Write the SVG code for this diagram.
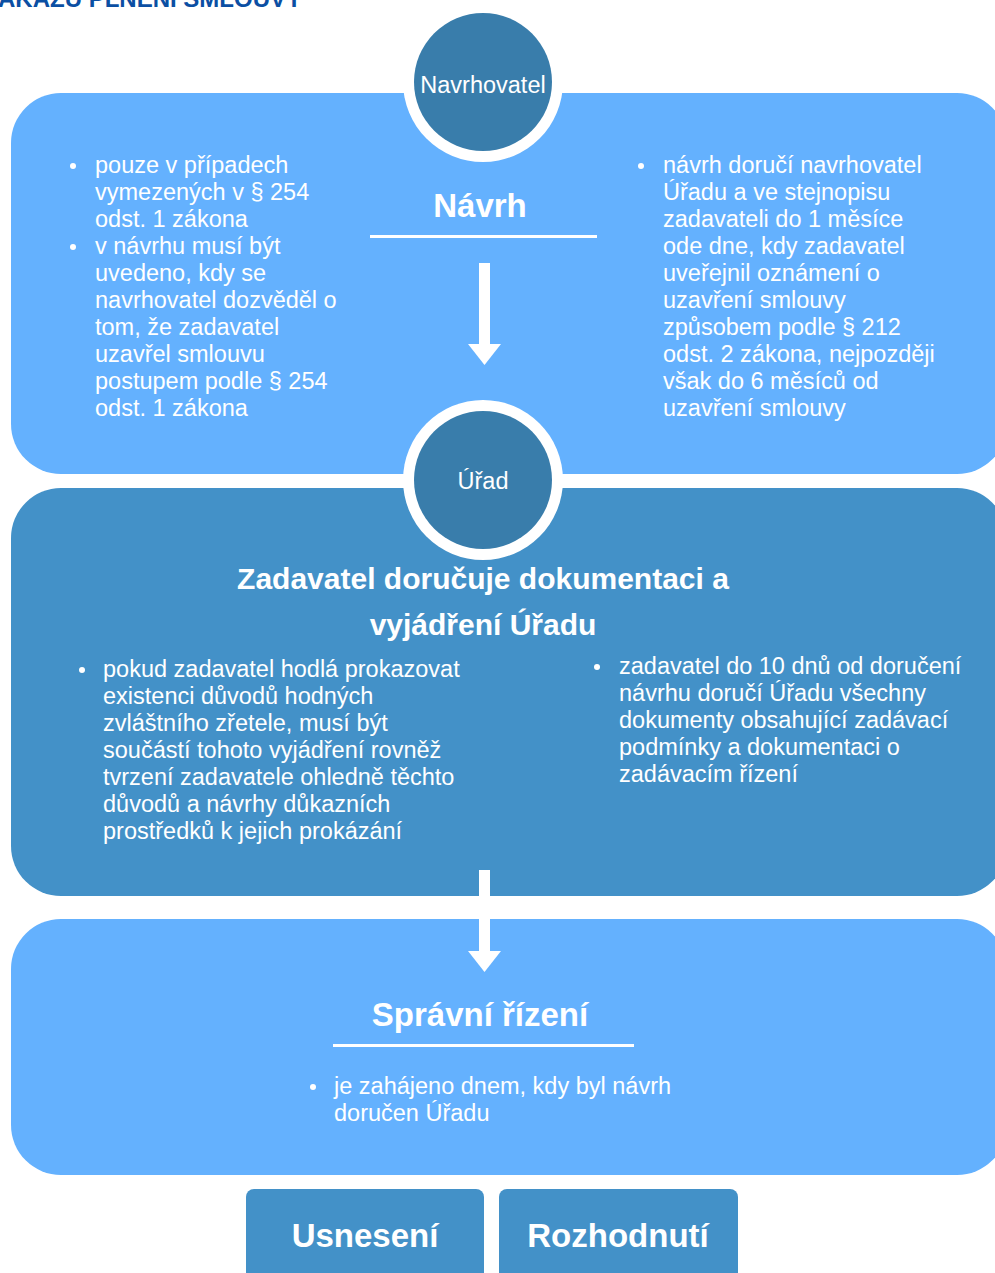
<svg xmlns="http://www.w3.org/2000/svg" width="995" height="1273" viewBox="0 0 995 1273">
<style>
.light{fill:#64B1FE}
.mid{fill:#4391C8}
.circ{fill:#397DAB}
.ring{fill:#FFFFFF}
.t{font-family:"Liberation Sans",Arial,sans-serif;fill:#FFFFFF}
.body{font-size:23.5px}
.h1{font-size:33px;font-weight:bold}
.h2{font-size:30px;font-weight:bold}
.ctr{text-anchor:middle}
.bul{fill:#FFFFFF}
.title{font-family:"Liberation Sans",Arial,sans-serif;font-size:24px;font-weight:bold;fill:#0B4FA3}
.conn{stroke:#FFFFFF;stroke-width:11;fill:none}
</style>
<defs>
<marker id="head" markerUnits="userSpaceOnUse" markerWidth="22" markerHeight="34" viewBox="0 -17 22 34" refX="0" refY="0" orient="auto">
<path d="M0,-16.5 L21,0 L0,16.5 Z" fill="#FFFFFF"/>
</marker>
</defs>
<rect width="995" height="1273" fill="#FFFFFF"/>
<text class="title" x="-2" y="7">AKAZU PLNĚNÍ SMLOUVY</text>

<g id="navrh">
<rect class="light" x="11" y="93" width="996" height="381" rx="50" ry="50"/>
<text class="t h1 ctr" x="480" y="217">Návrh</text>
<rect x="370" y="235" width="227" height="3" fill="#FFFFFF"/>
<circle class="bul" cx="73" cy="166" r="3"/>
<circle class="bul" cx="73" cy="247" r="3"/>
<text class="t body" x="95">
<tspan x="95" y="173">pouze v případech</tspan>
<tspan x="95" y="200">vymezených v § 254</tspan>
<tspan x="95" y="227">odst. 1 zákona</tspan>
<tspan x="95" y="254">v návrhu musí být</tspan>
<tspan x="95" y="281">uvedeno, kdy se</tspan>
<tspan x="95" y="308">navrhovatel dozvěděl o</tspan>
<tspan x="95" y="335">tom, že zadavatel</tspan>
<tspan x="95" y="362">uzavřel smlouvu</tspan>
<tspan x="95" y="389">postupem podle § 254</tspan>
<tspan x="95" y="416">odst. 1 zákona</tspan>
</text>
<circle class="bul" cx="641" cy="166" r="3"/>
<text class="t body">
<tspan x="663" y="173">návrh doručí navrhovatel</tspan>
<tspan x="663" y="200">Úřadu a ve stejnopisu</tspan>
<tspan x="663" y="227">zadavateli do 1 měsíce</tspan>
<tspan x="663" y="254">ode dne, kdy zadavatel</tspan>
<tspan x="663" y="281">uveřejnil oznámení o</tspan>
<tspan x="663" y="308">uzavření smlouvy</tspan>
<tspan x="663" y="335">způsobem podle § 212</tspan>
<tspan x="663" y="362">odst. 2 zákona, nejpozději</tspan>
<tspan x="663" y="389">však do 6 měsíců od</tspan>
<tspan x="663" y="416">uzavření smlouvy</tspan>
</text>
</g>

<g id="navrhovatel">
<circle class="ring" cx="483" cy="82" r="80"/>
<circle class="circ" cx="483" cy="82" r="69"/>
<text class="t body ctr" x="483" y="93">Navrhovatel</text>
</g>

<g id="zadavatel">
<rect class="mid" x="11" y="488" width="996" height="408" rx="50" ry="50"/>
<text class="t h2 ctr" x="483" y="589">Zadavatel doručuje dokumentaci a</text>
<text class="t h2 ctr" x="483" y="635">vyjádření Úřadu</text>
<circle class="bul" cx="82" cy="670" r="3"/>
<text class="t body">
<tspan x="103" y="677">pokud zadavatel hodlá prokazovat</tspan>
<tspan x="103" y="704">existenci důvodů hodných</tspan>
<tspan x="103" y="731">zvláštního zřetele, musí být</tspan>
<tspan x="103" y="758">součástí tohoto vyjádření rovněž</tspan>
<tspan x="103" y="785">tvrzení zadavatele ohledně těchto</tspan>
<tspan x="103" y="812">důvodů a návrhy důkazních</tspan>
<tspan x="103" y="839">prostředků k jejich prokázání</tspan>
</text>
<circle class="bul" cx="597" cy="667" r="3"/>
<text class="t body">
<tspan x="619" y="674">zadavatel do 10 dnů od doručení</tspan>
<tspan x="619" y="701">návrhu doručí Úřadu všechny</tspan>
<tspan x="619" y="728">dokumenty obsahující zadávací</tspan>
<tspan x="619" y="755">podmínky a dokumentaci o</tspan>
<tspan x="619" y="782">zadávacím řízení</tspan>
</text>
</g>

<g id="urad">
<circle class="ring" cx="483" cy="480" r="80"/>
<circle class="circ" cx="483" cy="480" r="69"/>
<text class="t body ctr" x="483" y="489">Úřad</text>
</g>

<g id="spravni-rizeni">
<rect class="light" x="11" y="919" width="996" height="256" rx="50" ry="50"/>
<text class="t h1 ctr" x="480" y="1026">Správní řízení</text>
<rect x="333" y="1044" width="301" height="3" fill="#FFFFFF"/>
<circle class="bul" cx="313" cy="1087" r="3"/>
<text class="t body">
<tspan x="334" y="1094">je zahájeno dnem, kdy byl návrh</tspan>
<tspan x="334" y="1121">doručen Úřadu</tspan>
</text>
</g>

<g id="usneseni">
<rect class="mid" x="246" y="1189" width="238" height="100" rx="8" ry="8"/>
<text class="t h1 ctr" x="365" y="1247">Usnesení</text>
</g>

<g id="rozhodnuti">
<rect class="mid" x="499" y="1189" width="239" height="100" rx="8" ry="8"/>
<text class="t h1 ctr" x="618" y="1247">Rozhodnutí</text>
</g>

<g id="connectors">
<line class="conn" x1="484.5" y1="263" x2="484.5" y2="344" marker-end="url(#head)"/>
<line class="conn" x1="484.5" y1="870" x2="484.5" y2="951" marker-end="url(#head)"/>
</g>
</svg>
